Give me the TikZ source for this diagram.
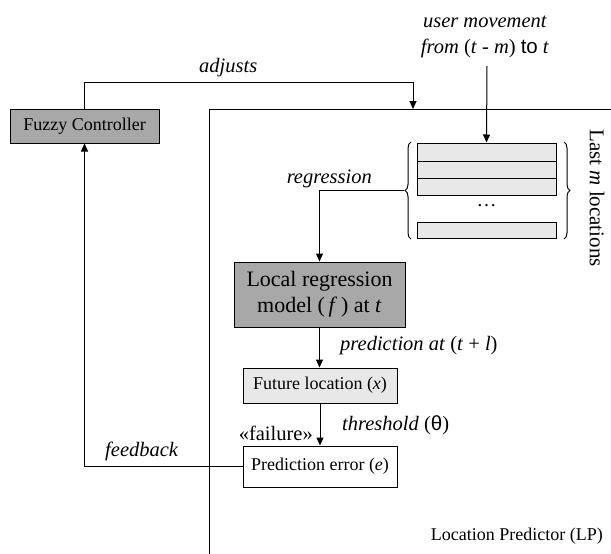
\documentclass[tikz,border=0pt]{standalone}
\usepackage{fontspec}
\setmainfont{LiberationSerif}[Extension=.ttf, UprightFont=*-Regular, ItalicFont=*-Italic, BoldFont=*-Bold, BoldItalicFont=*-BoldItalic]
\newfontfamily\grsans{Liberation Sans}
\usetikzlibrary{arrows.meta,decorations.pathreplacing}
\definecolor{dkgray}{gray}{0.66}
\definecolor{ltgray}{gray}{0.91}
\tikzset{
  box/.style={draw, line width=1pt, inner sep=0pt, font=\fontsize{18}{21}\selectfont},
  cell/.style={draw, line width=1pt, fill=ltgray, minimum width=139pt, inner sep=0pt},
  wire/.style={line width=1pt},
  arr/.style={line width=1pt, -{Triangle[length=8pt,width=7pt]}},
  lbl/.style={inner sep=0pt, font=\fontsize{20.5}{26}\selectfont},
}
\begin{document}
\begin{tikzpicture}[x=1pt,y=-1pt]
\useasboundingbox (0,0) rectangle (611,554);

% frame of the Location Predictor
\draw[wire] (209,554) -- (209,109) -- (611,109);

% blocks
\node[box, fill=dkgray, minimum width=149pt, minimum height=34pt] (fuzzy) at (84.5,126) {Fuzzy Controller};
\node[box, fill=dkgray, minimum width=171pt, minimum height=65pt, align=center,
      font=\fontsize{22}{26}\selectfont] (lr) at (319.5,294.5)
      {Local regression\\model (\,\textit{f}\,) at \textit{t}};
\node[box, fill=ltgray, minimum width=154pt, minimum height=35pt] (fut) at (320,385.5) {Future location (\textit{x})};
\node[box, fill=white, minimum width=154pt, minimum height=41pt] (pe) at (320,466.5) {Prediction error (\textit{e})};

% stack of the last m locations
\node[cell, minimum height=18pt] (r1) at (486.5,152) {};
\node[cell, minimum height=17pt] (r2) at (486.5,169.5) {};
\node[cell, minimum height=17pt] (r3) at (486.5,186.5) {};
\node[inner sep=0pt, font=\fontsize{20}{20}\selectfont] (dots) at (486.5,206) {\dots};
\node[cell, minimum height=16pt] (r4) at (486.5,230) {};

\draw[wire, decorate, decoration={brace, amplitude=6pt}] (411,239) -- (411,142);
\draw[wire, decorate, decoration={brace, amplitude=6pt}] (564,142) -- (564,239);
\coordinate (ltip) at (404,190.5);

\node[lbl, rotate=-90, font=\fontsize{21}{21}\selectfont] (lastm) at (597,198) {Last \textit{m} locations};

% connectors
\coordinate (adjcorner) at (413,82);
\coordinate (adjend) at (413,109);
\draw[arr] (fuzzy.north) |- (adjcorner) -- (adjend);
\coordinate (umv) at (487,66);
\draw[arr] (umv) -- (r1.north);
\draw[arr] (ltip) -| (lr.north);
\draw[arr] (lr.south) -- (lr.south |- fut.north);
\draw[arr] (fut) -- (pe);
\draw[arr] (pe.west) -| (fuzzy.south);

% labels
\node[lbl, align=center] (user) at (485,37) {\textit{user movement}\\\textit{from} (\textit{t} - \textit{m}) {\grsans to} \textit{t}};
\node[lbl, anchor=base west] (adj) at (199,72) {\textit{adjusts}};
\node[lbl, anchor=base east] (reg) at (372,183) {\textit{regression}};
\node[lbl, anchor=base west] (pred) at (340,350) {\textit{prediction at} (\textit{t} + \textit{l})};
\node[lbl, anchor=base west] (thr) at (342,430) {\textit{threshold} ({\grsans θ})};
\node[lbl, anchor=base east] (fail) at (313,440) {«failure»};
\node[lbl, anchor=base west] (fb) at (105,456) {\textit{feedback}};
\node[inner sep=0pt, anchor=base east, font=\fontsize{18}{20}\selectfont] (lp) at (603,540) {Location Predictor (LP)};
\end{tikzpicture}
\end{document}
